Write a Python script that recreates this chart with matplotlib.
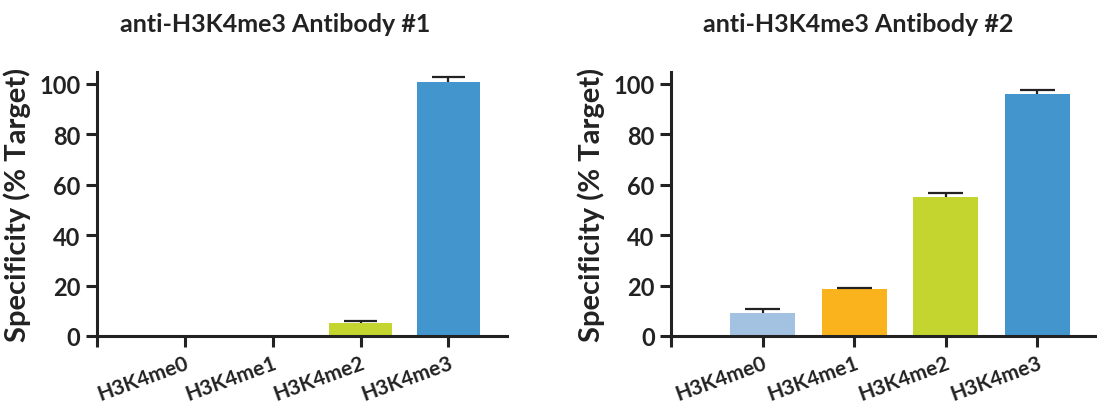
import matplotlib
matplotlib.use('Agg')
from matplotlib import pyplot as plt

plt.rcParams['font.family'] = ['Lato', 'DejaVu Sans']

labels = ['H3K4me0', 'H3K4me1', 'H3K4me2', 'H3K4me3']
colors = ['#a3c2e2', '#fbb31d', '#c3d52e', '#4296cd']

ab1_vals = [0, 0, 5.0, 100.8]
ab1_err = [0, 0, 0.8, 2.0]
ab2_vals = [9.0, 18.5, 55.0, 95.8]
ab2_err = [1.8, 0.5, 1.8, 1.7]

titles = ['anti-H3K4me3 Antibody #1', 'anti-H3K4me3 Antibody #2']

ink = '#222222'
fig = plt.figure(figsize=(10.97, 4.06), dpi=100)
boxes = [[0.0884, 0.170, 0.374, 0.650], [0.612, 0.170, 0.386, 0.650]]
title_x = [275 / 1097, 858 / 1097]
xright = [3.67, 3.63]

for i, (vals, errs) in enumerate([(ab1_vals, ab1_err), (ab2_vals, ab2_err)]):
    ax = fig.add_axes(boxes[i])
    x = list(range(len(labels)))
    ax.bar(x, vals, width=0.71, color=colors, zorder=2)
    # one-sided error bars: only the upper whisker and cap
    for j in range(len(vals)):
        if errs[j] == 0:
            continue
        top = vals[j] + errs[j]
        ax.vlines(x[j], vals[j], top, color=ink, lw=1.6, zorder=3)
        ax.hlines(top, x[j] - 0.19, x[j] + 0.19, color=ink, lw=1.6, zorder=3)
    ax.set_xlim(-1, xright[i])
    ax.set_ylim(0, 104.6)
    ax.set_yticks([0, 20, 40, 60, 80, 100])
    ax.set_xticks([-1] + x)
    ax.set_xticklabels([''] + labels, rotation=20, ha='right',
                       rotation_mode='anchor', fontsize=15, fontweight='bold', color=ink)
    for t in ax.get_yticklabels():
        t.set_fontsize(17)
        t.set_fontweight('bold')
        t.set_color(ink)
    for s in ['top', 'right']:
        ax.spines[s].set_visible(False)
    for s in ['left', 'bottom']:
        ax.spines[s].set_linewidth(2.2)
        ax.spines[s].set_color(ink)
    ax.tick_params(axis='both', length=8, width=2.2, color=ink, pad=4)
    ax.set_ylabel('Specificity (% Target)', fontsize=21, fontweight='bold', color=ink, labelpad=6)
    fig.text(title_x[i], 1 - 24 / 406, titles[i], ha='center', va='center',
             fontsize=18, fontweight='bold', color=ink)

fig.savefig('out.png', dpi=100)
